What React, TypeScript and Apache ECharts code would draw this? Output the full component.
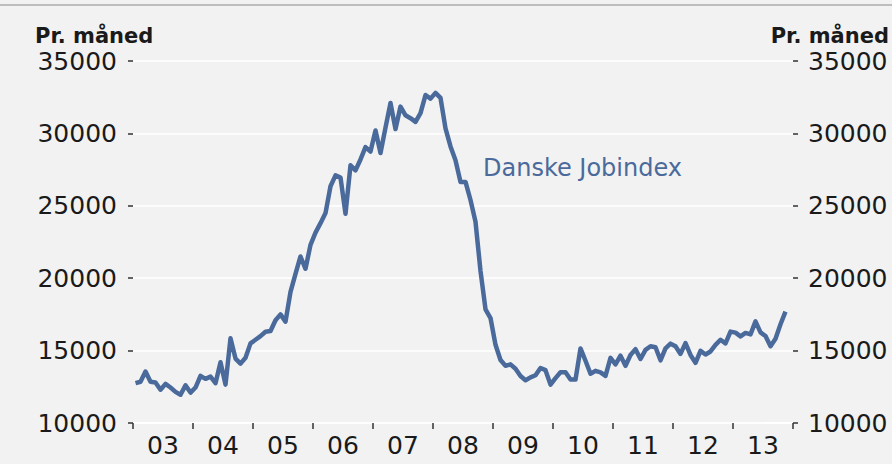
import React, { useEffect, useRef } from "react";
import * as echarts from "echarts";

const years = ["2003", "2004", "2005", "2006", "2007", "2008", "2009", "2010", "2011", "2012", "2013"];
const months = ["01", "02", "03", "04", "05", "06", "07", "08", "09", "10", "11", "12"];
const categories: string[] = [];
years.forEach((y) => months.forEach((m) => categories.push(`${y}-${m}`)));

const v2003 = [12750, 12850, 13550, 12850, 12800, 12300, 12700, 12450, 12150, 11950, 12600, 12100];
const v2004 = [12450, 13250, 13050, 13200, 12750, 14200, 12650, 15850, 14450, 14100, 14500, 15500];
const v2005 = [15750, 16000, 16300, 16350, 17100, 17500, 17000, 19050, 20300, 21500, 20650, 22300];
const v2006 = [23150, 23800, 24500, 26350, 27100, 26950, 24450, 27800, 27450, 28200, 29050, 28750];
const v2007 = [30200, 28650, 30400, 32100, 30300, 31850, 31250, 31050, 30800, 31400, 32650, 32400];
const v2008 = [32800, 32450, 30350, 29100, 28150, 26650, 26650, 25400, 23900, 20500, 17850, 17250];
const v2009 = [15400, 14350, 13950, 14050, 13750, 13250, 12950, 13150, 13300, 13800, 13650, 12650];
const v2010 = [13100, 13500, 13500, 13000, 13000, 15150, 14300, 13400, 13600, 13500, 13250, 14500];
const v2011 = [14050, 14650, 13950, 14700, 15100, 14420, 15050, 15300, 15230, 14330, 15160, 15480];
const v2012 = [15300, 14770, 15520, 14700, 14150, 14980, 14730, 14940, 15400, 15750, 15500, 16310];
const v2013 = [16240, 15980, 16220, 16120, 17020, 16260, 16010, 15300, 15820, 16820, 17690];

const jobindex: (number | null)[] = [
  ...v2003, ...v2004, ...v2005, ...v2006, ...v2007, ...v2008,
  ...v2009, ...v2010, ...v2011, ...v2012, ...v2013, null,
];

const yTicks = { min: 10000, max: 35000, interval: 5000 };
const unitLabel = "Pr. måned";
const seriesName = "Danske Jobindex";

const FONT = "DejaVu Sans";
const BLUE = "#4a6a9c";

export default function App() {
  const ref = useRef<HTMLDivElement>(null);
  useEffect(() => {
    if (!ref.current) return;
    const chart = echarts.init(ref.current, undefined, { renderer: "svg" });
    const yAxisBase = {
      type: "value" as const,
      min: yTicks.min,
      max: yTicks.max,
      interval: yTicks.interval,
      axisLine: { show: false },
      axisTick: { show: true, length: 5, lineStyle: { color: "#333", width: 1.5 } },
      splitLine: { show: true, lineStyle: { color: "#ffffff", width: 1.5 } },
      axisLabel: {
        fontFamily: FONT,
        fontSize: 25,
        color: "#1a1a1a",
        margin: 16,
        formatter: (v: number) => String(v),
      },
    };
    chart.setOption({
      animation: false,
      backgroundColor: "#f2f2f2",
      grid: { left: 133, right: 99, top: 61, bottom: 41, containLabel: false },
      xAxis: {
        type: "category",
        data: categories,
        boundaryGap: true,
        axisLine: { show: true, lineStyle: { color: "#ffffff", width: 1.5 } },
        axisTick: {
          show: true,
          length: 6,
          interval: (idx: number) => idx % 12 === 0,
          lineStyle: { color: "#333", width: 1.5 },
        },
        axisLabel: {
          interval: (idx: number) => idx % 12 === 6,
          formatter: (v: string) => v.slice(2, 4),
          fontFamily: FONT,
          fontSize: 25,
          color: "#1a1a1a",
          margin: 10,
          padding: [0, 5, 0, 0],
        },
        splitLine: { show: false },
      },
      yAxis: [
        { ...yAxisBase, position: "left" },
        {
          ...yAxisBase,
          position: "right",
          splitLine: { show: false },
          axisLabel: { ...yAxisBase.axisLabel, margin: 15 },
        },
      ],
      series: [
        {
          name: seriesName,
          type: "line",
          data: jobindex,
          yAxisIndex: 0,
          showSymbol: false,
          symbol: "none",
          lineStyle: { color: BLUE, width: 4.5, join: "round" },
          connectNulls: false,
        },
      ],
      graphic: [
        {
          type: "line",
          shape: { x1: 0, y1: 5, x2: 892, y2: 5 },
          style: { stroke: "#888888", lineWidth: 1.2 },
        },
        {
          type: "text",
          x: 35,
          y: 36,
          style: { text: unitLabel, font: `bold 21px "${FONT}"`, fill: "#1a1a1a", align: "left", verticalAlign: "middle" },
        },
        {
          type: "text",
          x: 889,
          y: 36,
          style: { text: unitLabel, font: `bold 21px "${FONT}"`, fill: "#1a1a1a", align: "right", verticalAlign: "middle" },
        },
        {
          type: "text",
          x: 483,
          y: 168,
          style: { text: seriesName, font: `24px "${FONT}"`, fill: BLUE, align: "left", verticalAlign: "middle" },
        },
      ],
    });
    return () => chart.dispose();
  }, []);
  return (
    <div
      ref={ref}
      style={{ position: "fixed", left: 0, top: 0, width: 892, height: 464 }}
    />
  );
}
